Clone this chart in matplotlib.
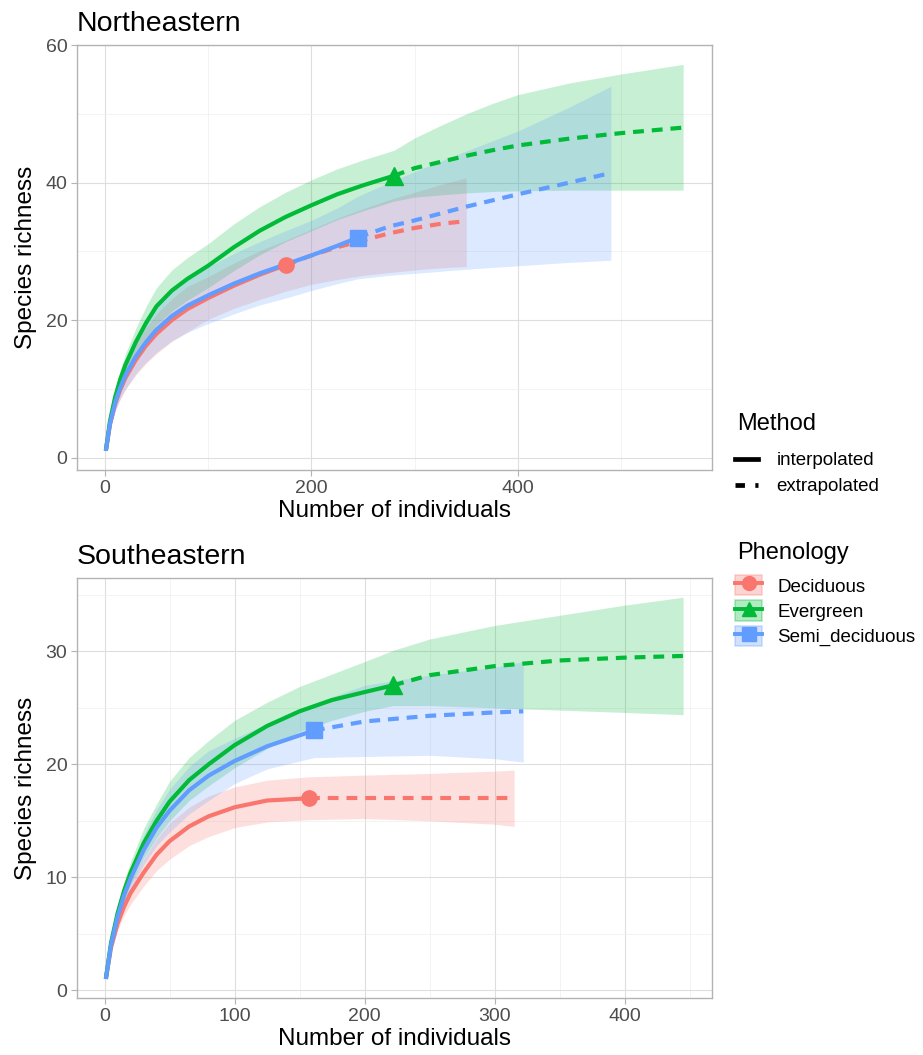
import numpy as np
import matplotlib
matplotlib.use("Agg")
import matplotlib.pyplot as plt
from matplotlib.lines import Line2D
from matplotlib.patches import Patch
from matplotlib.ticker import MultipleLocator

plt.rcParams['font.family'] = ['Liberation Sans', 'DejaVu Sans']

# === Colours (ggplot default hues) ===
groups = ["Deciduous", "Evergreen", "Semi_deciduous"]
colors = {"Deciduous": "#F8766D", "Evergreen": "#00BA38", "Semi_deciduous": "#619CFF"}
markers = {"Deciduous": "o", "Evergreen": "^", "Semi_deciduous": "s"}

# === Northeastern ===
ne_dec_x = [1, 5, 10, 15, 20, 30, 40, 50, 65, 80, 100, 125, 150, 175]
ne_dec_y = [1, 4.8, 7.8, 9.9, 11.6, 14.2, 16.3, 18.0, 20.0, 21.6, 23.2, 25.0, 26.6, 28.0]
ne_dec_lo = [1, 4.3, 6.8, 8.5, 9.9, 12.0, 13.7, 15.1, 16.9, 18.3, 20.1, 21.7, 23.0, 24.2]
ne_dec_hi = [1, 5.3, 8.8, 11.3, 13.3, 16.4, 18.9, 20.9, 23.1, 24.9, 26.3, 28.3, 30.1, 31.6]
ne_dec_xe = [175, 200, 225, 250, 275, 300, 325, 350]
ne_dec_ye = [28.0, 29.4, 30.6, 31.6, 32.6, 33.4, 34.0, 34.4]
ne_dec_loe = [24.2, 25.2, 25.9, 26.5, 26.9, 27.3, 27.6, 27.8]
ne_dec_hie = [31.6, 33.2, 34.8, 36.2, 37.5, 38.6, 39.7, 40.7]

ne_eve_x = [1, 5, 10, 15, 20, 30, 40, 50, 65, 80, 100, 125, 150, 175, 200, 225, 250, 280]
ne_eve_y = [1, 5.3, 8.8, 11.4, 13.5, 16.8, 19.6, 22.0, 24.3, 26.0, 27.9, 30.6, 33.0, 35.0, 36.7, 38.3, 39.6, 41.0]
ne_eve_lo = [1, 4.8, 7.8, 10.1, 11.9, 14.8, 17.2, 19.3, 21.3, 22.9, 24.7, 27.2, 29.5, 31.4, 33.0, 34.6, 35.9, 37.3]
ne_eve_hi = [1, 5.8, 9.8, 12.7, 15.1, 18.8, 22.0, 24.7, 27.3, 29.1, 31.1, 34.0, 36.5, 38.6, 40.4, 42.0, 43.3, 44.7]
ne_eve_xe = [280, 300, 325, 350, 375, 400, 450, 500, 560]
ne_eve_ye = [41.0, 42.1, 43.0, 43.9, 44.7, 45.4, 46.4, 47.2, 48.0]
ne_eve_loe = [37.3, 37.9, 38.2, 38.5, 38.7, 38.8, 38.9, 38.9, 38.9]
ne_eve_hie = [44.7, 46.5, 48.3, 50.0, 51.5, 52.8, 54.5, 55.8, 57.2]

ne_sem_x = [1, 5, 10, 15, 20, 30, 40, 50, 65, 80, 100, 125, 150, 175, 200, 225, 245]
ne_sem_y = [1, 4.9, 8.0, 10.2, 12.0, 14.7, 16.8, 18.6, 20.6, 22.1, 23.6, 25.3, 26.8, 28.1, 29.4, 30.8, 32.0]
ne_sem_lo = [1, 4.4, 6.8, 8.6, 10.0, 12.2, 13.9, 15.3, 17.0, 18.2, 19.5, 20.9, 22.2, 23.2, 24.3, 25.3, 26.0]
ne_sem_hi = [1, 5.4, 9.2, 11.8, 14.0, 17.2, 19.7, 21.9, 24.2, 26.0, 27.7, 29.7, 31.4, 33.0, 34.5, 36.3, 38.0]
ne_sem_xe = [245, 275, 300, 350, 400, 450, 490]
ne_sem_ye = [32.0, 33.6, 34.5, 36.5, 38.3, 40.0, 41.4]
ne_sem_loe = [26.0, 26.5, 26.8, 27.4, 27.9, 28.4, 28.7]
ne_sem_hie = [38.0, 40.0, 41.6, 44.6, 47.5, 51.0, 54.0]

# === Southeastern ===
se_dec_x = [1, 5, 10, 15, 20, 30, 40, 50, 65, 80, 100, 125, 157]
se_dec_y = [1, 3.8, 5.9, 7.4, 8.6, 10.4, 12.0, 13.2, 14.5, 15.4, 16.2, 16.8, 17.0]
se_dec_lo = [1, 3.4, 5.3, 6.6, 7.6, 9.2, 10.6, 11.6, 12.8, 13.6, 14.4, 14.9, 15.1]
se_dec_hi = [1, 4.2, 6.5, 8.2, 9.6, 11.6, 13.4, 14.8, 16.2, 17.2, 18.0, 18.6, 18.9]
se_dec_xe = [157, 200, 250, 300, 315]
se_dec_ye = [17.0, 17.0, 17.0, 17.0, 17.0]
se_dec_loe = [15.1, 15.2, 15.0, 14.7, 14.5]
se_dec_hie = [18.9, 19.05, 19.2, 19.4, 19.5]

se_eve_x = [1, 5, 10, 15, 20, 30, 40, 50, 65, 80, 100, 125, 150, 175, 200, 222]
se_eve_y = [1, 4.2, 6.8, 8.8, 10.4, 13.0, 15.0, 16.7, 18.6, 20.0, 21.7, 23.4, 24.7, 25.7, 26.4, 27.0]
se_eve_lo = [1, 3.8, 6.2, 8.0, 9.4, 11.7, 13.5, 15.0, 16.8, 18.1, 19.7, 21.4, 22.9, 23.9, 24.7, 25.2]
se_eve_hi = [1, 4.6, 7.4, 9.6, 11.4, 14.3, 16.5, 18.5, 20.6, 22.1, 23.9, 25.5, 26.9, 28.0, 29.1, 30.1]
se_eve_xe = [222, 250, 275, 300, 350, 400, 445]
se_eve_ye = [27.0, 27.9, 28.3, 28.7, 29.2, 29.45, 29.6]
se_eve_loe = [25.2, 25.2, 25.1, 25.0, 24.8, 24.6, 24.4]
se_eve_hie = [30.1, 31.1, 31.7, 32.3, 33.2, 34.1, 34.8]

se_sem_x = [1, 5, 10, 15, 20, 30, 40, 50, 65, 80, 100, 125, 161]
se_sem_y = [1, 4.0, 6.5, 8.4, 9.9, 12.4, 14.4, 15.9, 17.7, 19.0, 20.3, 21.6, 23.0]
se_sem_lo = [1, 3.6, 5.9, 7.6, 8.9, 11.1, 12.8, 14.0, 15.6, 16.8, 18.3, 19.6, 20.6]
se_sem_hi = [1, 4.4, 7.1, 9.2, 10.9, 13.7, 16.0, 17.8, 19.8, 21.2, 22.3, 23.6, 25.4]
se_sem_xe = [161, 200, 250, 300, 322]
se_sem_ye = [23.0, 23.8, 24.3, 24.6, 24.7]
se_sem_loe = [20.6, 20.7, 20.8, 20.5, 20.2]
se_sem_hie = [25.4, 27.0, 27.9, 28.6, 29.1]

panels = [
    ("Northeastern", {
        "Deciduous": (ne_dec_x, ne_dec_y, ne_dec_lo, ne_dec_hi, ne_dec_xe, ne_dec_ye, ne_dec_loe, ne_dec_hie),
        "Evergreen": (ne_eve_x, ne_eve_y, ne_eve_lo, ne_eve_hi, ne_eve_xe, ne_eve_ye, ne_eve_loe, ne_eve_hie),
        "Semi_deciduous": (ne_sem_x, ne_sem_y, ne_sem_lo, ne_sem_hi, ne_sem_xe, ne_sem_ye, ne_sem_loe, ne_sem_hie),
    }, [0, 200, 400], [0, 20, 40, 60], 100, 10),
    ("Southeastern", {
        "Deciduous": (se_dec_x, se_dec_y, se_dec_lo, se_dec_hi, se_dec_xe, se_dec_ye, se_dec_loe, se_dec_hie),
        "Evergreen": (se_eve_x, se_eve_y, se_eve_lo, se_eve_hi, se_eve_xe, se_eve_ye, se_eve_loe, se_eve_hie),
        "Semi_deciduous": (se_sem_x, se_sem_y, se_sem_lo, se_sem_hi, se_sem_xe, se_sem_ye, se_sem_loe, se_sem_hie),
    }, [0, 100, 200, 300, 400], [0, 10, 20, 30], 50, 5),
]

fig = plt.figure(figsize=(9.23, 10.55), dpi=100)
rects = [[0.0834, 0.5545, 0.688, 0.4028], [0.0834, 0.054, 0.688, 0.398]]

LW = 3.0
DASH = (2.6, 1.9)

for rect, (title, data, xt, yt, xminor, yminor) in zip(rects, panels):
    ax = fig.add_axes(rect)
    for g in groups:
        x, y, lo, hi, xe, ye, loe, hie = data[g]
        ax.fill_between(x + xe[1:], lo + loe[1:], hi + hie[1:], color=colors[g],
                        alpha=0.22, linewidth=0, zorder=1)
    for g in groups:
        x, y, lo, hi, xe, ye, loe, hie = data[g]
        ax.plot(x, y, color=colors[g], lw=LW, solid_capstyle='butt',
                solid_joinstyle='round', zorder=3)
        ax.plot(xe, ye, color=colors[g], lw=LW, dashes=DASH, zorder=3)
        ax.plot([x[-1]], [y[-1]], marker=markers[g], color=colors[g],
                markersize=11 if g != "Evergreen" else 12.5, linestyle='none', zorder=4)

    ax.set_xticks(xt)
    ax.set_yticks(yt)
    ax.xaxis.set_minor_locator(MultipleLocator(xminor))
    ax.yaxis.set_minor_locator(MultipleLocator(yminor))
    ax.grid(which='major', color='#DEDEDE', lw=0.8, zorder=0)
    ax.grid(which='minor', color='#EFEFEF', lw=0.5, zorder=0)
    ax.set_axisbelow(True)
    for s in ax.spines.values():
        s.set_color('#B3B3B3')
        s.set_linewidth(1.0)
    ax.tick_params(which='major', length=4, color='#B3B3B3', labelsize=14, labelcolor='#4D4D4D', pad=3)
    ax.tick_params(which='minor', length=0)
    ax.set_xlabel("Number of individuals", fontsize=17.5, labelpad=2)
    ax.set_ylabel("Species richness", fontsize=17.5, labelpad=6)
    ax.set_title(title, loc='left', fontsize=20.5, pad=10)

# === Legends (titles as separate text for ggplot-like spacing) ===
leg_x = 735 / 923
fig.text(737 / 923, 1 - 424 / 1055, "Method", fontsize=17, va='center', ha='left')
method_handles = [Line2D([], [], color='black', lw=3.4),
                  Line2D([], [], color='black', lw=3.4, dashes=(2.0, 2.2))]
fig.legend(method_handles, ["interpolated", "extrapolated"],
           loc='upper left', bbox_to_anchor=(leg_x, 1 - 452 / 1055), frameon=False,
           fontsize=13.5, handlelength=1.2, handletextpad=1.0,
           labelspacing=0.48, borderaxespad=0, borderpad=0)

fig.text(737 / 923, 1 - 553 / 1055, "Phenology", fontsize=17, va='center', ha='left')
phen_handles = []
for g in groups:
    patch = Patch(facecolor=colors[g], alpha=0.3, edgecolor=colors[g], linewidth=1.2)
    line = Line2D([], [], color=colors[g], lw=2.8, marker=markers[g], markersize=10)
    phen_handles.append((patch, line))
fig.legend(phen_handles, groups,
           loc='upper left', bbox_to_anchor=(leg_x, 1 - 575 / 1055), frameon=False,
           fontsize=13.5, handlelength=1.45, handleheight=1.3,
           handletextpad=0.8, labelspacing=0.26, borderaxespad=0, borderpad=0)

fig.savefig("out.png", dpi=100, facecolor='white')
